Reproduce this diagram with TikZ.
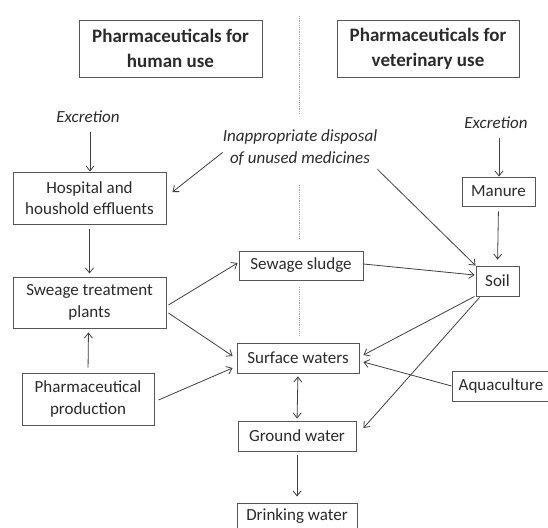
\documentclass[tikz,border=0pt]{standalone}
\usepackage{fontspec}
\setmainfont{Carlito}
\usetikzlibrary{arrows.meta}
\definecolor{txt}{HTML}{2B2B2B}
\definecolor{ln}{HTML}{404040}
\definecolor{bx}{HTML}{555555}
\newcommand{\fsn}{\fontsize{17}{21.5}\selectfont}
\newcommand{\fst}{\fontsize{19}{25}\selectfont\bfseries}
\tikzset{
  box/.style={draw=bx, line width=0.9pt, inner sep=0pt, align=center, font=\fsn, text=txt},
  titlebox/.style={draw=bx, line width=0.9pt, inner sep=0pt, align=center, font=\fst, text=txt},
  lbl/.style={inner sep=0pt, align=center, font=\fsn\itshape, text=txt},
  arr/.style={draw=ln, line width=0.8pt, -{Straight Barb[length=5pt,width=8pt]}},
  darr/.style={draw=ln, line width=0.8pt, {Straight Barb[length=5pt,width=8pt]}-{Straight Barb[length=5pt,width=8pt]}},
  divider/.style={draw=gray!70, line width=0.9pt, dash pattern=on 1.2pt off 1pt}
}
\begin{document}
\begin{tikzpicture}[x=1pt,y=-1pt]
\useasboundingbox (0,0) rectangle (548,527);
\clip (0,0) rectangle (548,527);
\fill[white] (0,0) rectangle (548,527);
% divider
\draw[divider] (299,16) -- (299,114);
\draw[divider] (299,185) -- (299,240);
\draw[divider] (299,287) -- (299,336);
% titles
\node[titlebox, minimum width=183pt, minimum height=57pt] (t1) at (170.5,48.5) {Pharmaceuticals for\\human use};
\node[titlebox, minimum width=182pt, minimum height=57pt] (t2) at (428,48.5) {Pharmaceuticals for\\veterinary use};
% labels
\node[lbl] (exc1) at (88,117) {Excretion};
\node[lbl] (exc2) at (496,123) {Excretion};
\node[lbl] (inapp) at (300,147.5) {Inappropriate disposal\\of unused medicines};
% boxes
\node[box, minimum width=153pt, minimum height=52pt] (hosp) at (89.5,198) {Hospital and\\houshold effluents};
\node[box, minimum width=153pt, minimum height=51pt] (stp) at (89.5,302.5) {Sweage treatment\\plants};
\node[box, minimum width=132pt, minimum height=52pt] (pharm) at (88,399) {Pharmaceutical\\production};
\node[box, minimum width=124pt, minimum height=29pt] (sludge) at (301,265.5) {Sewage sludge};
\node[box, minimum width=122pt, minimum height=30pt] (surface) at (298,358) {Surface waters};
\node[box, minimum width=118pt, minimum height=30pt] (ground) at (297,436) {Ground water};
\node[box, minimum width=120pt, minimum height=26pt] (drink) at (297,516) {Drinking water};
\node[box, minimum width=73pt, minimum height=29pt] (manure) at (498.5,191.5) {Manure};
\node[box, minimum width=43pt, minimum height=30pt] (soil) at (497.5,281) {Soil};
\node[box, minimum width=98pt, minimum height=30pt] (aqua) at (501,386) {Aquaculture};
% connectors
\draw[arr] ([xshift=2pt,yshift=-9pt]exc1.south) -- ([xshift=0.5pt]hosp.north);
\draw[arr] ([xshift=3pt,yshift=-9pt]exc2.south) -- ([xshift=0.5pt]manure.north);
\draw[arr] ([yshift=-5pt]inapp.west) -- ([xshift=6pt,yshift=6pt]hosp.east);
\draw[arr] ([xshift=0pt,yshift=-4pt]inapp.south east) -- (soil.north west);
\draw[arr, shorten <=5pt, shorten >=3pt] (hosp.south) -- (stp.north);
\draw[arr, shorten <=5pt, shorten >=6pt] (manure.south) -- (soil.north);
\draw[arr, shorten <=5pt, shorten >=4pt] (pharm.north) -- ([xshift=-1pt]stp.south);
\draw[arr] ([xshift=2pt,yshift=-2.5pt]stp.east) -- ([xshift=-1pt,yshift=2.5pt]sludge.west);
\draw[arr] ([xshift=2pt,yshift=-10.5pt]stp.east) -- ([xshift=-4pt,yshift=2pt]surface.west);
\draw[arr] ([xshift=4pt,yshift=-1pt]pharm.east) -- ([xshift=-4pt,yshift=-10pt]surface.west);
\draw[arr] ([yshift=1.5pt]sludge.east) -- ([xshift=-1pt,yshift=6pt]soil.west);
\draw[arr] ([xshift=-1pt]soil.south west) -- ([xshift=4pt,yshift=3pt]surface.east);
\draw[arr] (aqua.west) -- ([xshift=4pt,yshift=-4pt]surface.east);
\draw[arr] ([xshift=4pt,yshift=-1pt]soil.south west) -- ([xshift=7pt,yshift=8pt]ground.east);
\draw[darr, shorten <=3pt, shorten >=2pt] (surface.south) -- (ground.north);
\draw[arr, shorten <=4pt, shorten >=6pt] (ground.south) -- (drink.north);
\end{tikzpicture}
\end{document}
